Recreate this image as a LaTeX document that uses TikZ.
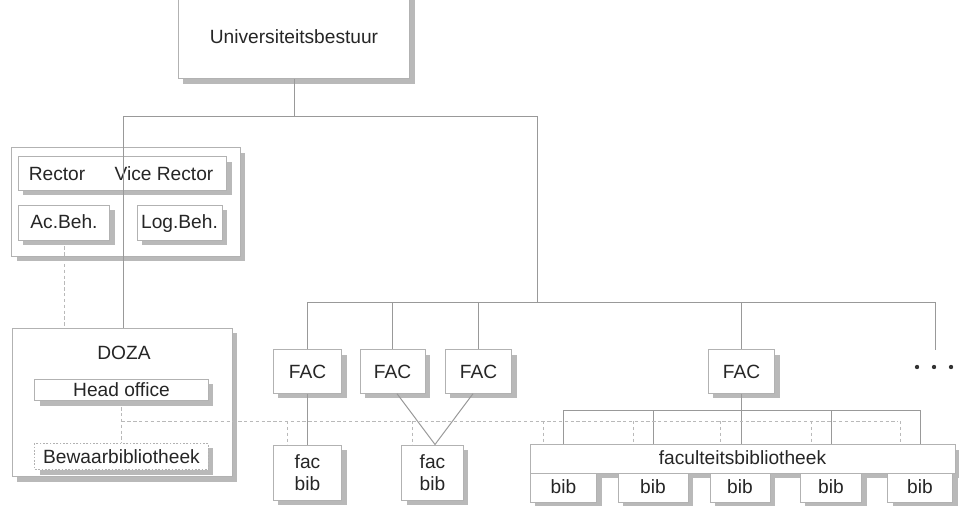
\documentclass[tikz,border=0pt]{standalone}
\usepackage{fontspec}
\setmainfont{Liberation Sans}
\usetikzlibrary{calc, shadows}

\tikzset{
  box/.style={draw=gray!60, fill=white, inner sep=0pt, line width=0.6pt,
    drop shadow={shadow xshift=3pt, shadow yshift=-3pt, fill=gray!55, opacity=1}},
  even/.style={text height=1.8ex, text depth=0.45ex},
  link/.style={draw=gray!80, line width=0.6pt},
  dotlink/.style={draw=gray!55, line width=0.5pt, dash pattern=on 2pt off 1.5pt},
}

\begin{document}
\begin{tikzpicture}[x=0.6pt, y=-0.6pt, font=\fontsize{11.5}{13}\selectfont, text=black!85]
\useasboundingbox (0,0) rectangle (959,506);

% bestuur
\node[box, minimum width=139pt, minimum height=50pt] (univ) at (294,37) {Universiteitsbestuur};

% rector en beheer
\node[box, minimum width=137pt, minimum height=65pt] (rgroup) at (126,202) {};
\node[box, minimum width=125pt, minimum height=20pt] (rbox) at (122.5,173.5) {};
\node[even] (rector) at (57,175) {Rector};
\node[even] (vrector) at (164,175) {Vice Rector};
\node[box, even, minimum width=55pt, minimum height=21pt] (acbeh) at (64,222.5) {Ac.Beh.};
\node[box, even, minimum width=51pt, minimum height=21pt] (logbeh) at (179.5,222.5) {Log.Beh.};

% DOZA
\node[box, minimum width=132pt, minimum height=89pt] (doza) at (122,402.5) {};
\node (dozalbl) at (124,353) {DOZA};
\node[box, minimum width=104pt, minimum height=13pt] (head) at (121.5,390) {Head office};
\node[box, dash pattern=on 1pt off 1pt, minimum width=104pt, minimum height=16pt] (bewaar) at (121.5,456.5) {Bewaarbibliotheek};

% faculteiten
\node[box, minimum width=41pt, minimum height=26pt] (fac1) at (307.5,371.5) {FAC};
\node[box, minimum width=39pt, minimum height=26pt] (fac2) at (392.5,371.5) {FAC};
\node[box, minimum width=40pt, minimum height=26pt] (fac3) at (478.5,371.5) {FAC};
\node[box, minimum width=40pt, minimum height=26pt] (fac4) at (741.5,371.5) {FAC};

% bibliotheken
\node[box, minimum width=41pt, minimum height=33pt, align=center] (fb1) at (307.5,472.5) {fac\\bib};
\node[box, minimum width=37pt, minimum height=33pt, align=center] (fb2) at (432.5,472.5) {fac\\bib};
\node[box, even, minimum width=255pt, minimum height=17pt] (facbib) at (742.5,459) {faculteitsbibliotheek};
\node[box, even, minimum width=40pt, minimum height=17.4pt] (bib1) at (563.5,487.5) {bib};
\node[box, even, minimum width=42pt, minimum height=17.4pt] (bib2) at (653,487.5) {bib};
\node[box, even, minimum width=36pt, minimum height=17.4pt] (bib3) at (740,487.5) {bib};
\node[box, even, minimum width=37pt, minimum height=17.4pt] (bib4) at (831,487.5) {bib};
\node[box, even, minimum width=39pt, minimum height=17.4pt] (bib5) at (920,487.5) {bib};

% hoofdlijnen
\coordinate (bl) at (123,116);
\coordinate (br) at (537,116);
\coordinate (fl) at (307.5,302);
\coordinate (fr) at (935,302);
\coordinate (more) at (935,350);
\draw[link] (univ.south) -- (univ.south |- bl);
\draw[link] (bl) -- (br) -- (br |- fl);
\draw[link] (bl) -- (bl |- doza.north);
\draw[link] (fl) -- (fr) -- (more);
\foreach \f in {fac1,fac2,fac3,fac4}
  \draw[link] (\f.north |- fl) -- (\f.north);

% fac naar bib
\draw[link] (fac1.south) -- (fb1.north);
\draw[link] ($(fac2.south)+(4.5,0)$) -- ($(fb2.north)+(2.5,0)$) -- ($(fac3.south)+(-5.5,0)$);
\draw[link] (fac4.south) -- (fac4.south |- facbib.north);
\coordinate (kl) at (563.5,410);
\draw[link] (bib1 |- facbib.north) -- (bib1 |- kl) -- (bib5 |- kl) -- (bib5 |- facbib.north);
\foreach \b in {bib2,bib4}
  \draw[link] (\b |- kl) -- (\b |- facbib.north);

% stippellijnen
\coordinate (dl) at (121.5,421);
\coordinate (dr) at (898,421);
\draw[dotlink] (acbeh.south) -- (acbeh.south |- doza.north);
\draw[dotlink] (head.south) -- (bewaar.north);
\draw[dotlink] (dl) -- (dr);
\foreach \b in {fb1,fb2,bib1,bib2,bib3,bib4,bib5} {
  \coordinate (d) at ($(\b.north)+(-20,0)$);
  \draw[dotlink] (d |- dl) -- (d |- facbib.north);
}

% meer faculteiten
\foreach \x in {917,934,951}
  \fill[black!80] (\x,367) circle (1.3pt);

\end{tikzpicture}
\end{document}
